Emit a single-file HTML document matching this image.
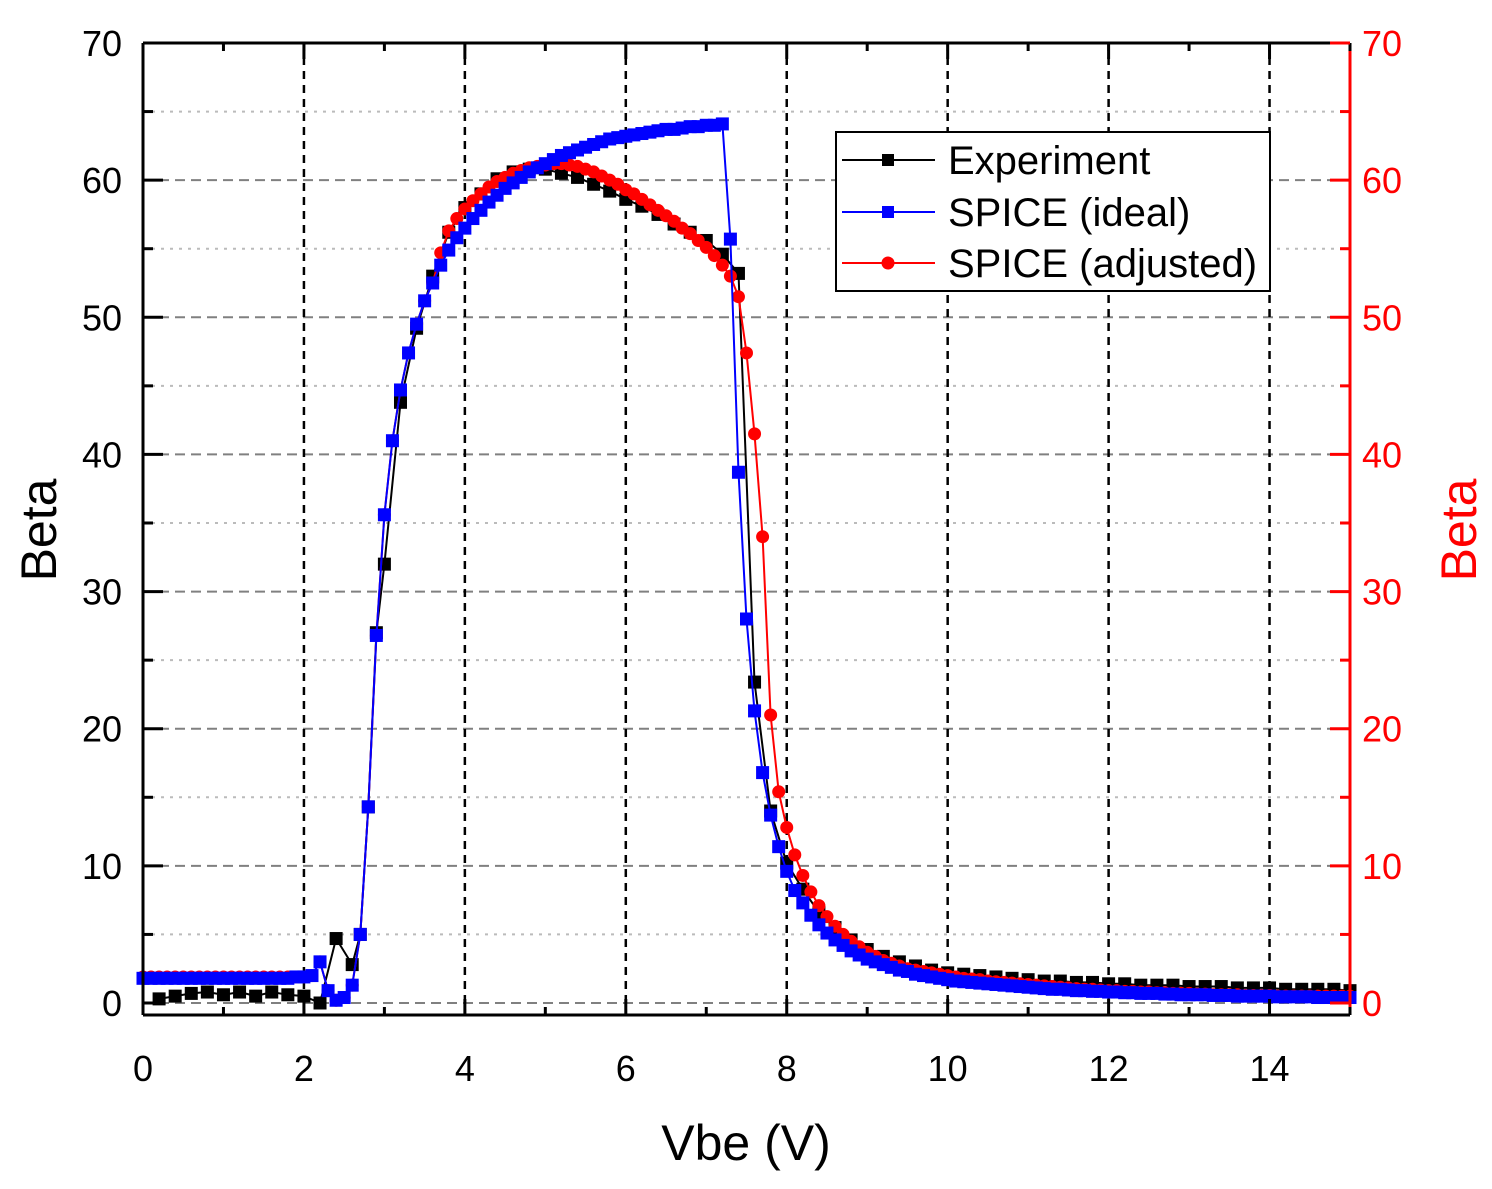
<!DOCTYPE html>
<html><head><meta charset="utf-8"><style>
html,body{margin:0;padding:0;background:#fff;}
svg{display:block;font-family:"Liberation Sans",Arial,sans-serif;}
</style></head><body>
<svg id="chart" width="1492" height="1189" viewBox="0 0 1492 1189" xmlns="http://www.w3.org/2000/svg">
<g id="grid"></g>
<g id="series"></g>
<g id="axes"></g>
<text x="746" y="1160" font-size="50" text-anchor="middle">Vbe (V)</text>
<text transform="translate(56,530) rotate(-90)" font-size="50" text-anchor="middle">Beta</text>
<text transform="translate(1476,530) rotate(-90)" font-size="50" text-anchor="middle" fill="#ff0000">Beta</text>
<g>
<rect x="836" y="132" width="434" height="159" fill="#fff" stroke="#000" stroke-width="2"/>
<g><line x1="842" y1="160" x2="935" y2="160" stroke="#000" stroke-width="2"/><rect x="882" y="154" width="12" height="12" fill="#000"/><text x="948" y="174" font-size="40">Experiment</text></g>
<g><line x1="842" y1="212" x2="935" y2="212" stroke="#0000ff" stroke-width="2"/><rect x="882" y="206" width="12" height="12" fill="#0000ff"/><text x="948" y="226" font-size="40">SPICE (ideal)</text></g>
<g><line x1="842" y1="263" x2="935" y2="263" stroke="#ff0000" stroke-width="2"/><circle cx="888" cy="263" r="6.5" fill="#ff0000"/><text x="948" y="277" font-size="40">SPICE (adjusted)</text></g>
</g>
</svg>
<script>
const expX = [0.2,0.4,0.6,0.8,1.0,1.2,1.4,1.6,1.8,2.0,2.2,2.4,2.6,2.7,2.8,2.9,3.0,3.2,3.4,3.6,3.8,4.0,4.2,4.4,4.6,4.8,5.0,5.2,5.4,5.6,5.8,6.0,6.2,6.4,6.6,6.8,7.0,7.2,7.4,7.6,7.8,8.0,8.2,8.4,8.6,8.8,9.0,9.2,9.4,9.6,9.8,10.0,10.2,10.4,10.6,10.8,11.0,11.2,11.4,11.6,11.8,12.0,12.2,12.4,12.6,12.8,13.0,13.2,13.4,13.6,13.8,14.0,14.2,14.4,14.6,14.8,15.0];
const expY = [0.3,0.5,0.7,0.8,0.6,0.8,0.5,0.8,0.6,0.5,0.0,4.7,2.8,5.0,14.3,27.0,32.0,43.8,49.2,53.0,56.2,58.0,59.0,60.1,60.6,60.8,60.8,60.5,60.2,59.7,59.2,58.6,58.1,57.5,56.8,56.2,55.6,54.6,53.2,23.4,14.0,10.2,8.3,6.6,5.5,4.6,3.9,3.4,3.0,2.7,2.4,2.2,2.1,2.0,1.9,1.8,1.7,1.6,1.6,1.5,1.5,1.4,1.4,1.3,1.3,1.3,1.2,1.2,1.2,1.1,1.1,1.1,1.0,1.0,1.0,1.0,0.9];
const spiceStep = 0.1;
const idealY = [1.8,1.8,1.8,1.8,1.8,1.8,1.8,1.8,1.8,1.8,1.8,1.8,1.8,1.8,1.8,1.8,1.8,1.8,1.8,1.9,1.9,
2.0,3.0,0.9,0.2,0.4,1.3,5.0,14.3,26.8,35.6,41.0,44.7,47.4,49.5,51.2,52.5,53.8,54.9,55.8,56.5,
57.2,57.8,58.4,58.9,59.4,59.8,60.2,60.6,60.9,61.2,61.5,61.8,62.0,62.2,62.4,62.6,62.8,63.0,63.1,63.2,63.3,63.4,63.5,63.6,63.7,63.7,63.8,63.9,63.9,64.0,64.0,64.1,
55.7,38.7,28.0,21.3,16.8,13.7,11.4,9.6,8.2,7.3,6.4,5.7,5.1,4.6,4.2,3.8,3.5,3.2,
3.0,2.8,2.6,2.4,2.3,2.1,2.0,1.9,1.8,1.7,
1.6,1.55,1.5,1.45,1.4,1.35,1.3,1.25,1.2,1.15,1.1,1.05,1.0,1.0,0.95,0.9,0.9,0.85,0.85,0.8,
0.8,0.75,0.75,0.7,0.7,0.7,0.65,0.65,0.6,0.6,0.6,0.6,0.55,0.55,0.55,0.5,0.5,0.5,0.5,0.5,
0.45,0.45,0.45,0.45,0.45,0.4,0.4,0.4,0.4,0.4];
const adjustedY = [1.9,1.9,1.9,1.9,1.9,1.9,1.9,1.9,1.9,1.9,1.9,1.9,1.9,1.9,1.9,1.9,1.9,1.9,1.9,1.9,1.9,
2.0,3.0,0.9,0.2,0.4,1.3,5.0,14.3,26.8,35.6,41.0,44.7,47.4,49.5,51.2,52.5,54.7,56.3,57.2,57.9,
58.5,59.0,59.5,59.9,60.2,60.5,60.7,60.9,61.0,61.1,61.2,61.2,61.1,61.0,60.8,60.6,60.3,60.0,59.7,59.3,59.0,58.6,58.2,57.8,57.4,57.0,56.5,56.1,55.6,55.1,54.5,53.8,
53.0,51.5,47.4,41.5,34.0,21.0,15.4,12.8,10.8,9.3,8.1,7.1,6.3,5.6,5.0,4.5,4.1,3.7,
3.4,3.1,2.9,2.7,2.5,2.4,2.3,2.2,2.1,2.0,
1.9,1.8,1.75,1.7,1.6,1.55,1.5,1.45,1.4,1.35,1.3,1.25,1.2,1.15,1.1,1.05,1.0,1.0,0.95,0.9,
0.9,0.85,0.85,0.8,0.8,0.75,0.75,0.7,0.7,0.7,0.65,0.65,0.6,0.6,0.6,0.6,0.55,0.55,0.55,0.55,
0.5,0.5,0.5,0.5,0.5,0.5,0.5,0.5,0.5,0.5];
const xTicks = [0,2,4,6,8,10,12,14];
const yTicks = [0,10,20,30,40,50,60,70];

const NS = "http://www.w3.org/2000/svg";
const L = 143, R = 1350, T = 43, B = 1015;
const X = v => L + v * (R - L) / 15;
const Y = v => 1003 - v * (1003 - T) / 70;
function mk(tag, attrs, parent){ const e = document.createElementNS(NS, tag); for (const k in attrs) e.setAttribute(k, attrs[k]); parent.appendChild(e); return e; }
const grid = document.getElementById('grid'), ser = document.getElementById('series'), axes = document.getElementById('axes');

for (let v = 0; v <= 65; v += 5) {
  const major = v % 10 === 0;
  const g = mk('line', {x1:L, x2:R, y1:Y(v), y2:Y(v), stroke: major ? '#808080' : '#bbbbbb', 'stroke-width': 2, 'stroke-dasharray': major ? '10,6' : '3,6'}, grid);
  
  
}
xTicks.forEach(v => {
  if (v === 0) return;
  const g = mk('line', {x1:X(v), x2:X(v), y1:T, y2:B, stroke:'#000', 'stroke-width':2.5, 'stroke-dasharray':'8,6'}, grid);
  
  
});

function drawSeries(xs, ys, color, marker, name){
  const g = mk('g', {}, ser);
  
  
  const pts = xs.map((x,i) => X(x).toFixed(1) + ',' + Y(ys[i]).toFixed(1)).join(' ');
  mk('polyline', {points: pts, fill:'none', stroke: color, 'stroke-width': 2}, g);
  xs.forEach((x,i) => {
    let m;
    if (marker === 'square') m = mk('rect', {x: X(x)-6.5, y: Y(ys[i])-6.5, width:13, height:13, fill: color}, g);
    else m = mk('circle', {cx: X(x), cy: Y(ys[i]), r: 6.5, fill: color}, g);
    
    
  });
}
const spiceX = idealY.map((_, i) => +(i * spiceStep).toFixed(1));
drawSeries(expX, expY, '#000000', 'square', 'experiment-series');
drawSeries(spiceX, adjustedY, '#ff0000', 'circle', 'spice-adjusted-series');
drawSeries(spiceX, idealY, '#0000ff', 'square', 'spice-ideal-series');

mk('line', {x1:L, x2:R, y1:B, y2:B, stroke:'#000', 'stroke-width':3}, axes);
mk('line', {x1:L, x2:R, y1:T, y2:T, stroke:'#000', 'stroke-width':3}, axes);
mk('line', {x1:L, x2:L, y1:T, y2:B, stroke:'#000', 'stroke-width':3}, axes);
mk('line', {x1:R, x2:R, y1:T, y2:B, stroke:'#ff0000', 'stroke-width':3}, axes);
for (let v = 0; v <= 15; v += 1) {
  const len = v % 2 === 0 ? 16 : 8;
  mk('line', {x1:X(v), x2:X(v), y1:B, y2:B-len, stroke:'#000', 'stroke-width':3}, axes);
  mk('line', {x1:X(v), x2:X(v), y1:T, y2:T+len, stroke:'#000', 'stroke-width':3}, axes);
}
xTicks.forEach(v => {
  const t = mk('text', {x:X(v), y:1081, 'font-size':36, 'text-anchor':'middle'}, axes);
  t.textContent = v;
  
  
});
for (let v = 0; v <= 70; v += 5) {
  const len = v % 10 === 0 ? 20 : 10;
  mk('line', {x1:L, x2:L+len, y1:Y(v), y2:Y(v), stroke:'#000', 'stroke-width':3}, axes);
  mk('line', {x1:R, x2:R-len, y1:Y(v), y2:Y(v), stroke:'#ff0000', 'stroke-width':3}, axes);
}
yTicks.forEach(v => {
  const t = mk('text', {x:122, y:Y(v)+13, 'font-size':36, 'text-anchor':'end'}, axes);
  t.textContent = v;
  
  
  const t2 = mk('text', {x:1362, y:Y(v)+13, 'font-size':36, fill:'#ff0000'}, axes);
  t2.textContent = v;
  
  
});
</script>
</body></html>
